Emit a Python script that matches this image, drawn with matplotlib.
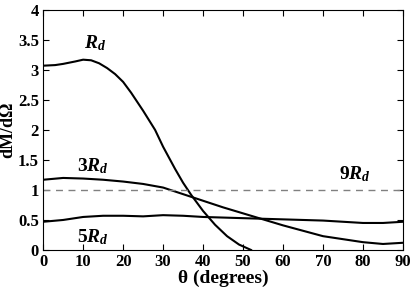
import matplotlib.pyplot as plt
from matplotlib.ticker import FuncFormatter

plt.rcParams['font.family'] = ['Liberation Serif', 'DejaVu Serif']
plt.rcParams['font.weight'] = 'bold'
plt.rcParams['axes.labelweight'] = 'bold'
plt.rcParams['mathtext.fontset'] = 'custom'
plt.rcParams['mathtext.rm'] = 'Liberation Serif:bold'
plt.rcParams['mathtext.it'] = 'Liberation Serif:italic:bold'
plt.rcParams['mathtext.bf'] = 'Liberation Serif:bold'

# values
theta_1 = [0, 3, 5, 8, 10, 12, 14, 16, 18, 20, 22, 25, 28, 30, 33, 35, 37, 40, 43, 46, 49, 52]
rd_1 = [3.07, 3.08, 3.10, 3.14, 3.17, 3.16, 3.11, 3.03, 2.93, 2.80, 2.62, 2.32, 2.0, 1.72, 1.35, 1.12, 0.92, 0.65, 0.42, 0.23, 0.09, 0.0]

theta_3 = [0, 5, 10, 15, 20, 25, 30, 35, 40, 45, 50, 55, 60, 65, 70, 75, 80, 85, 90]
rd_3 = [1.17, 1.20, 1.19, 1.17, 1.14, 1.10, 1.04, 0.93, 0.82, 0.71, 0.61, 0.51, 0.41, 0.32, 0.23, 0.18, 0.13, 0.10, 0.12]

theta_5 = [0, 5, 10, 15, 20, 25, 30, 35, 40, 50, 60, 70, 80, 85, 90]
rd_5 = [0.47, 0.50, 0.55, 0.57, 0.57, 0.56, 0.58, 0.57, 0.55, 0.53, 0.51, 0.49, 0.45, 0.45, 0.47]

theta_9 = [0, 90]
rd_9 = [1.0, 1.0]

fig = plt.figure(figsize=(4.15, 2.9), dpi=100)
ax = fig.add_axes([0.104, 0.138, 0.867, 0.828])

ax.plot(theta_1, rd_1, color='black', lw=1.5)
ax.plot(theta_3, rd_3, color='black', lw=1.5)
ax.plot(theta_5, rd_5, color='black', lw=1.5)
ax.plot(theta_9, rd_9, color='gray', lw=1.0, ls=(0, (5, 4)))

ax.text(13, 3.45, r'$R_d$', fontsize=14, ha='center', va='center')
ax.text(12.5, 1.4, r'$3R_d$', fontsize=14, ha='center', va='center')
ax.text(12.5, 0.22, r'$5R_d$', fontsize=14, ha='center', va='center')
ax.text(78, 1.27, r'$9R_d$', fontsize=14, ha='center', va='center')

ax.set_xlim(0, 90)
ax.set_ylim(0, 4)
ax.set_xticks(range(0, 91, 10))
ax.set_yticks([0, 0.5, 1, 1.5, 2, 2.5, 3, 3.5, 4])
ax.yaxis.set_major_formatter(FuncFormatter(lambda v, p: f'{v:g}'))
ax.tick_params(direction='in', top=True, right=True, labelsize=12, length=4, pad=3)
ax.set_xlabel('θ (degrees)', fontsize=14, labelpad=0)
ax.set_ylabel('dṀ/dΩ', fontsize=13, labelpad=1)

fig.savefig('out.png', dpi=100)
